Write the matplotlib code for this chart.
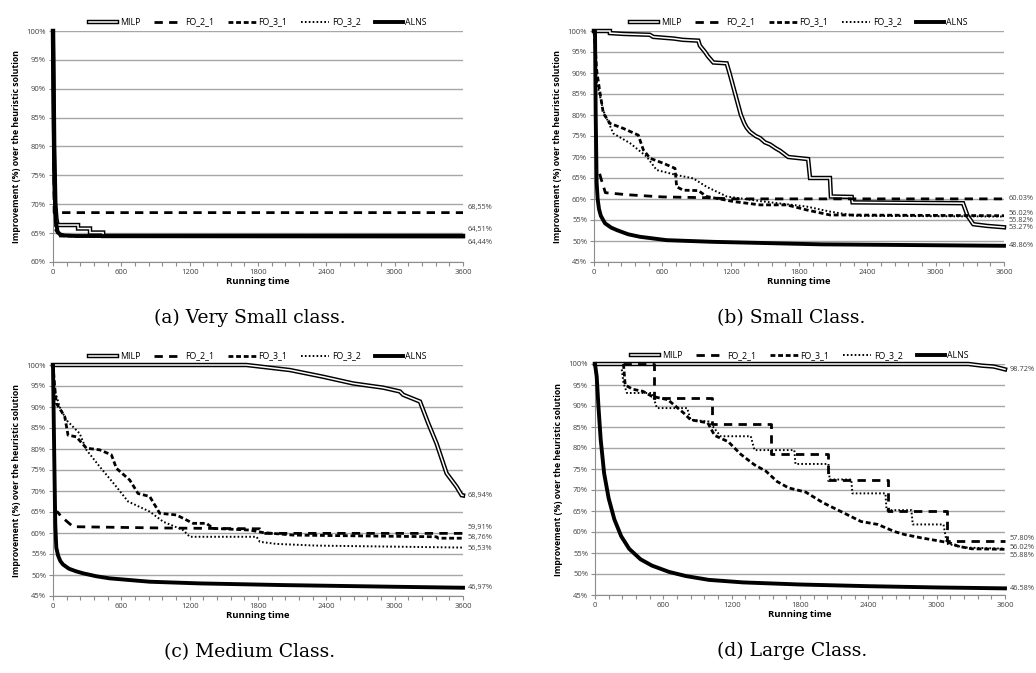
import matplotlib.pyplot as plt
from matplotlib.ticker import MultipleLocator, FuncFormatter

# ---- data (time in s, improvement in %) ----

# (a) Very Small class
a_milp_t = [0, 10, 20, 30, 40, 220, 220, 325, 325, 440, 440, 3600]
a_milp_v = [100, 80, 70, 67.5, 66.4, 66.4, 65.8, 65.8, 65.1, 65.1, 64.51, 64.51]
a_fo21_t = [0, 10, 3600]
a_fo21_v = [100, 68.55, 68.55]
a_fo31_t = [0, 10, 25, 60, 3600]
a_fo31_v = [100, 75, 65.5, 64.5, 64.44]
a_fo32_t = [0, 10, 25, 60, 3600]
a_fo32_v = [100, 74, 65.3, 64.5, 64.44]
a_alns_t = [0, 5, 10, 15, 25, 40, 60, 100, 200, 3600]
a_alns_v = [100, 88, 78, 72, 67, 65.3, 64.8, 64.6, 64.5, 64.44]

# (b) Small class
b_milp_t = [0, 140, 140, 260, 490, 520, 700, 780, 916, 930, 975, 1000, 1048, 1165, 1190, 1230,
            1260, 1290, 1320, 1340, 1370, 1420, 1458, 1500, 1545, 1600, 1633, 1706, 1880, 1897,
            2072, 2080, 2263, 2270, 3240, 3280, 3330, 3450, 3600]
b_milp_v = [100, 100, 99.5, 99.3, 99.1, 98.6, 98.2, 97.9, 97.7, 96.5, 95, 94, 92.5, 92.3, 90, 86,
            83, 80, 78, 77, 76, 75, 74.5, 73.5, 73, 72, 71.5, 70, 69.5, 65,
            65, 60.6, 60.5, 59.2, 59, 56, 54, 53.6, 53.27]
b_fo21_t = [50, 60, 100, 300, 600, 1000, 1200, 3600]
b_fo21_v = [66, 65, 61.5, 61, 60.5, 60.3, 60.03, 60.03]
b_fo31_t = [0, 9, 23, 53, 82, 140, 258, 389, 433, 492, 609, 711, 726, 784, 916, 989, 1223, 1458,
            1692, 1867, 2072, 3600]
b_fo31_v = [100, 97, 90.7, 85.2, 80.4, 78, 76.8, 75.2, 71.7, 69.7, 68.5, 67.3, 62.9, 62.1, 62,
            60.6, 59.4, 58.6, 58.6, 57.4, 56.2, 56.02]
b_fo32_t = [0, 10, 23, 82, 170, 316, 462, 550, 726, 872, 989, 1165, 1487, 1867, 2072, 2300, 3600]
b_fo32_v = [100, 95, 88, 81, 75.6, 73.3, 70.1, 66.9, 65.7, 64.9, 62.9, 60.6, 59.4, 58.2, 57, 56,
            55.82]
b_alns_t = [0, 9, 15, 23, 32, 44, 60, 97, 150, 200, 300, 404, 638, 1048, 2000, 3600]
b_alns_v = [100, 100, 80, 64, 60, 57.6, 56, 54.2, 53.2, 52.6, 51.6, 51, 50.2, 49.8, 49.2, 48.86]

# (c) Medium class
c_milp_t = [0, 1699, 2080, 2372, 2636, 2900, 3046, 3075, 3222, 3295, 3368, 3456, 3544, 3588, 3600]
c_milp_v = [100, 100, 98.8, 97.2, 95.6, 94.6, 93.7, 92.9, 91.3, 86.1, 81.3, 74.2, 71, 69, 68.94]
c_fo21_t = [6, 40, 73, 176, 937, 1816, 1850, 3600]
c_fo21_v = [65.1, 65, 63.9, 61.5, 61.2, 61.0, 59.91, 59.91]
c_fo31_t = [0, 15, 29, 103, 132, 205, 293, 410, 513, 557, 674, 747, 849, 937, 1084, 1142, 1230,
            1347, 1406, 1728, 1845, 2109, 3368, 3380, 3600]
c_fo31_v = [100, 94.8, 90.9, 87.7, 83.3, 82.9, 80.2, 79.8, 78.6, 75.4, 72.6, 69.4, 68.7, 64.7,
            64.3, 63.5, 62.3, 62.3, 61.1, 60.7, 60.1, 59.5, 59.1, 58.76, 58.76]
c_fo32_t = [0, 15, 59, 117, 234, 293, 410, 557, 659, 849, 967, 1142, 1201, 1787, 1816, 1962, 2314,
            3600]
c_fo32_v = [100, 94, 90, 86.9, 83.7, 79.8, 75.8, 71, 67.5, 65.1, 62.7, 60.7, 59.1, 59.1, 57.9,
            57.4, 57, 56.53]
c_alns_t = [0, 10, 20, 29, 45, 65, 88, 140, 200, 264, 380, 498, 849, 1289, 2021, 3000, 3600]
c_alns_v = [100, 80, 62, 56.5, 54.6, 53.3, 52.5, 51.5, 50.9, 50.4, 49.7, 49.2, 48.4, 48, 47.6,
            47.2, 46.97]

# (d) Large class
d_milp_t = [0, 3280, 3400, 3500, 3560, 3600]
d_milp_v = [100, 100, 99.6, 99.4, 99.0, 98.72]
d_fo21_t = [250, 515, 515, 1030, 1030, 1544, 1544, 2044, 2044, 2570, 2570, 3087, 3087, 3600]
d_fo21_v = [100, 100, 92, 92, 85.7, 85.7, 78.6, 78.6, 72.3, 72.3, 65.1, 65.1, 57.8, 57.8]
d_fo31_t = [250, 265, 330, 420, 500, 640, 780, 840, 990, 1050, 1170, 1280, 1400, 1500, 1600, 1700,
            1850, 2000, 2150, 2336, 2483, 2630, 2718, 2866, 3013, 3116, 3190, 3307, 3600]
d_fo31_v = [100, 95, 94, 93.5, 92.3, 91.5, 88.3, 86.7, 86, 83, 81.5, 78.5, 76, 74.5, 72, 70.5,
            69.5, 67, 65, 62.5, 61.8, 60.1, 59.4, 58.6, 57.9, 57.4, 56.6, 56, 55.88]
d_fo32_t = [235, 250, 280, 500, 544, 809, 840, 1000, 1103, 1368, 1400, 1750, 1760, 2050, 2060,
            2250, 2260, 2550, 2560, 2778, 2790, 3060, 3090, 3250, 3600]
d_fo32_v = [98.7, 95.5, 93.1, 93.1, 89.5, 89.5, 86.7, 86.3, 82.8, 82.8, 79.5, 79.5, 76.2, 76.2,
            72.5, 72.5, 69.2, 69.2, 65.2, 65.2, 61.8, 61.8, 57.2, 56.3, 56.02]
d_alns_t = [0, 15, 30, 50, 80, 120, 170, 230, 300, 400, 500, 650, 800, 1000, 1300, 1800, 2400,
            3000, 3600]
d_alns_v = [100, 97, 90, 82, 74, 68, 63, 59, 56, 53.5, 52, 50.5, 49.5, 48.6, 48, 47.5, 47.1,
            46.8, 46.58]

# end-of-run labels
a_end_vals = [68.55, 64.51, 64.44]
a_end_text = ["68,55%", "64,51%", "64,44%"]
b_end_vals = [60.03, 56.02, 55.82, 53.27, 48.86]
b_end_text = ["60.03%", "56.02%", "55.82%", "53.27%", "48.86%"]
c_end_vals = [68.94, 59.91, 58.76, 56.53, 46.97]
c_end_text = ["68,94%", "59,91%", "58,76%", "56,53%", "46,97%"]
d_end_vals = [98.72, 57.80, 56.02, 55.88, 46.58]
d_end_text = ["98.72%", "57.80%", "56.02%", "55.88%", "46.58%"]

captions = ["(a) Very Small class.", "(b) Small Class.", "(c) Medium Class.", "(d) Large Class."]

plt.rcParams['lines.scale_dashes'] = False
plt.rcParams['font.family'] = ['Open Sans', 'DejaVu Sans']

fig = plt.figure(figsize=(10.36, 6.73), dpi=100)

W, H = 1036, 673
rects = [(53, 262), (594, 262), (53, 596), (595, 595)]   # left, bottom (px)
ax_w, ax_h = 410, 231

panels = [
    (a_milp_t, a_milp_v, a_fo21_t, a_fo21_v, a_fo31_t, a_fo31_v, a_fo32_t, a_fo32_v,
     a_alns_t, a_alns_v, a_end_vals, a_end_text, [5, 6, -6], 60),
    (b_milp_t, b_milp_v, b_fo21_t, b_fo21_v, b_fo31_t, b_fo31_v, b_fo32_t, b_fo32_v,
     b_alns_t, b_alns_v, b_end_vals, b_end_text, [0, 2, -4, 0, 0], 45),
    (c_milp_t, c_milp_v, c_fo21_t, c_fo21_v, c_fo31_t, c_fo31_v, c_fo32_t, c_fo32_v,
     c_alns_t, c_alns_v, c_end_vals, c_end_text, [0, 6, 1, -1, 0], 45),
    (d_milp_t, d_milp_v, d_fo21_t, d_fo21_v, d_fo31_t, d_fo31_v, d_fo32_t, d_fo32_v,
     d_alns_t, d_alns_v, d_end_vals, d_end_text, [0, 3, 1.5, -6, 0], 45),
]

grey = '#a6a6a6'
txt = '#404040'

for i, (rect, p) in enumerate(zip(rects, panels)):
    (mt, mv, f21t, f21v, f31t, f31v, f32t, f32v, at, av, ev, etx, edy, ymin) = p
    left, bottom = rect
    ax = fig.add_axes([left / W, (H - bottom) / H, ax_w / W, ax_h / H])

    m1, = ax.plot(mt, mv, color='black', lw=3.2, solid_joinstyle='miter', clip_on=False, zorder=3)
    m2, = ax.plot(mt, mv, color='white', lw=1.1, solid_joinstyle='miter', clip_on=False, zorder=3)
    l21, = ax.plot(f21t, f21v, color='black', lw=2.0, dashes=(6, 4.5), clip_on=False, zorder=4)
    l31, = ax.plot(f31t, f31v, color='black', lw=2.0, dashes=(3.5, 2), clip_on=False, zorder=4)
    l32, = ax.plot(f32t, f32v, color='black', lw=1.4, dashes=(1.2, 1.6), clip_on=False, zorder=4)
    la, = ax.plot(at, av, color='black', lw=2.8, clip_on=False, zorder=5)

    ax.set_xlim(0, 3600)
    ax.set_ylim(ymin, 100)
    ax.xaxis.set_major_locator(MultipleLocator(600))
    ax.xaxis.set_minor_locator(MultipleLocator(120))
    ax.yaxis.set_major_locator(MultipleLocator(5))
    ax.yaxis.set_major_formatter(FuncFormatter(lambda v, pos: f"{v:.0f}%"))
    ax.grid(axis='y', color=grey, lw=1)
    ax.set_axisbelow(True)
    for s in ['top', 'right']:
        ax.spines[s].set_visible(False)
    for s in ['left', 'bottom']:
        ax.spines[s].set_color('#8c8c8c')
    ax.tick_params(axis='both', which='both', direction='out', color='#8c8c8c',
                   labelsize=5.5, labelcolor=txt, length=3, width=0.8, pad=2)

    ax.set_xlabel("Running time", fontsize=6.8, fontweight='bold', labelpad=1)
    ax.set_ylabel("Improvement (%) over the heuristic solution", fontsize=6.3,
                  fontweight='bold', labelpad=4)

    for v, t, dy in zip(ev, etx, edy):
        ax.annotate(t, xy=(3600, v), xytext=(5, dy), textcoords='offset pixels',
                    fontsize=5.3, color=txt, va='center', ha='left', annotation_clip=False)

    ax.legend([(m1, m2), l21, l31, l32, la], ["MILP", "FO_2_1", "FO_3_1", "FO_3_2", "ALNS"],
              loc='lower center', bbox_to_anchor=(0.5, 1.0), ncol=5, frameon=False,
              fontsize=6.3, handlelength=3.2, columnspacing=1.6, handletextpad=0.3,
              borderaxespad=0.1)

    cx = (left + ax_w / 2 - 8) / W
    cy = (H - bottom - 56) / H
    fig.text(cx, cy, captions[i], ha='center', va='center', fontsize=13.5,
             family='DejaVu Serif')

fig.savefig("out.png", dpi=100)
